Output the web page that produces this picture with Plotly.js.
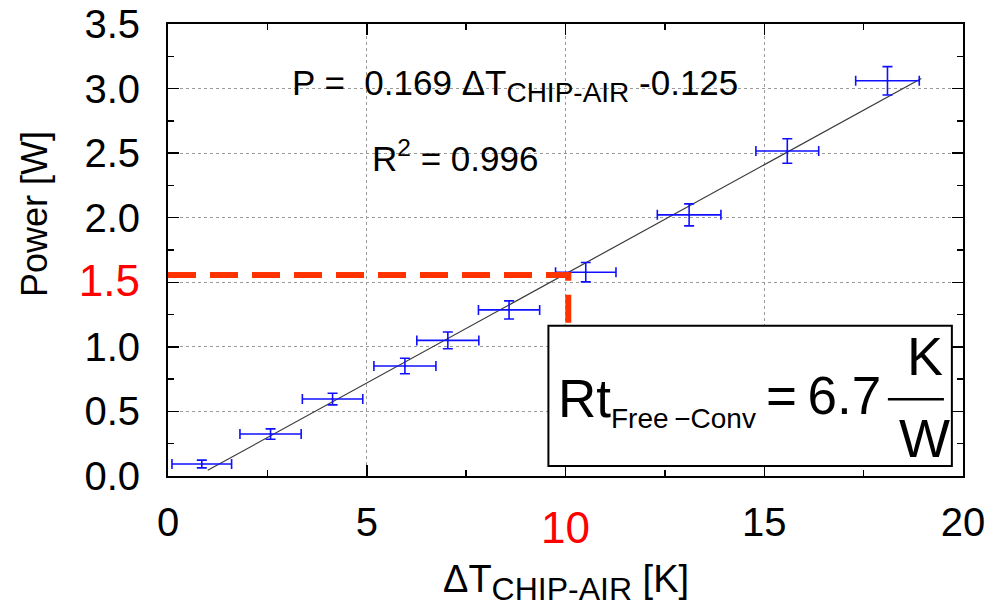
<!DOCTYPE html>
<html><head><meta charset="utf-8">
<script src="https://cdn.plot.ly/plotly-3.0.1.min.js"></script>
<style>html,body{margin:0;padding:0;background:#fff}#chart{width:996px;height:610px}</style>
</head><body><div id="chart"></div>
<script>
// ---- data ----
const deltaT    = [0.85, 2.58, 4.14, 5.96, 7.04, 8.58, 10.51, 13.11, 15.58, 18.10];
const power     = [0.093, 0.325, 0.596, 0.852, 1.050, 1.286, 1.578, 2.022, 2.517, 3.060];
const deltaTErr = [0.75, 0.77, 0.76, 0.78, 0.78, 0.77, 0.76, 0.80, 0.79, 0.80];
const powerErr  = [0.03, 0.04, 0.045, 0.06, 0.065, 0.07, 0.075, 0.085, 0.095, 0.11];
const fitSlope = 0.169;
const fitIntercept = -0.125;
const fitR2 = 0.996;
const fitXRange = [1.0, 18.95];
const xTickVals = [0, 5, 10, 15, 20];
const xTickText = ['0', '5', '10', '15', '20'];
const yTickVals = [0, 0.5, 1.0, 1.5, 2.0, 2.5, 3.0, 3.5];
const yTickText = ['0.0', '0.5', '1.0', '1.5', '2.0', '2.5', '3.0', '3.5'];
const highlightX = 10;
const highlightY = 1.5;
const readT = 10.07;
const readP = 1.557;
const rtValue = '6.7';

const FONT = 'Liberation Sans, Arial, sans-serif';
const fitY = fitXRange.map(x => fitSlope * x + fitIntercept);

const redX = (v, t) => v === highlightX ? '<span style="color:#ff0000;font-size:44px;baseline-shift:-7px">' + t + '</span>' : t;
const redY = (v, t) => v === highlightY ? '<span style="color:#ff0000;font-size:44px">' + t + '</span>' : t;

const box = {x0: 9.57, x1: 19.72, y0: 0.077, y1: 1.164};

const traces = [
  {
    x: fitXRange, y: fitY, mode: 'lines', type: 'scatter',
    line: {color: '#3a3a3a', width: 1.2}, hoverinfo: 'skip'
  },
  {
    x: deltaT, y: power, mode: 'markers', type: 'scatter',
    marker: {size: 2, color: '#1010ff'},
    error_x: {type: 'data', array: deltaTErr, visible: true, color: '#1010ff', thickness: 1.6, width: 5},
    error_y: {type: 'data', array: powerErr, visible: true, color: '#1010ff', thickness: 1.6, width: 5}
  }
];

const axisCommon = {
  showline: true, linecolor: '#000', linewidth: 2, mirror: 'ticks',
  ticks: 'inside', ticklen: 11, tickwidth: 1.5, tickcolor: '#000',
  showgrid: true, gridcolor: '#9a9a9a', griddash: 'dot', gridwidth: 1,
  zeroline: false, tickmode: 'array',
  tickfont: {family: FONT, size: 40, color: '#000'}
};

const layout = {
  width: 996, height: 610,
  margin: {l: 168, r: 33, t: 24, b: 134, pad: 0},
  paper_bgcolor: '#fff', plot_bgcolor: '#fff',
  showlegend: false,
  font: {family: FONT, color: '#000'},
  xaxis: Object.assign({}, axisCommon, {
    range: [0, 20], tickvals: xTickVals, ticktext: xTickText.map((t, i) => redX(xTickVals[i], t)),
    ticklabelstandoff: 10,
    minor: {dtick: 2.5, ticks: 'inside', ticklen: 6, tickwidth: 1.5, tickcolor: '#000', showgrid: false}
  }),
  yaxis: Object.assign({}, axisCommon, {
    range: [0, 3.5], tickvals: yTickVals, ticktext: yTickText.map((t, i) => redY(yTickVals[i], t)),
    ticklabelstandoff: 18,
    minor: {dtick: 0.25, ticks: 'inside', ticklen: 6, tickwidth: 1.5, tickcolor: '#000', showgrid: false}
  }),
  shapes: [
    {type: 'path', xref: 'x', yref: 'y', layer: 'above',
     path: `M 0,${readP} L ${readT},${readP} L ${readT},${box.y1}`,
     line: {color: '#ff3300', width: 6, dash: '28px,14px'}},
    {type: 'rect', xref: 'x', yref: 'y', layer: 'above',
     x0: box.x0, x1: box.x1, y0: box.y0, y1: box.y1,
     fillcolor: '#fff', line: {color: '#000', width: 2}},
    {type: 'line', xref: 'x', yref: 'y', layer: 'above',
     x0: 18.11, x1: 19.52, y0: 0.594, y1: 0.594,
     line: {color: '#000', width: 2.5}}
  ],
  annotations: [
    // axis titles
    {xref: 'paper', yref: 'paper', x: -0.167, y: 0.58, textangle: -90, showarrow: false,
     xanchor: 'center', yanchor: 'middle', text: 'Power [W]', font: {family: FONT, size: 36, color: '#000'}},
    {xref: 'paper', yref: 'paper', x: 0.5, y: -0.235, showarrow: false,
     xanchor: 'center', yanchor: 'middle',
     text: 'ΔT<sub><span style="font-size:32px">CHIP-AIR</span></sub> [K]',
     font: {family: FONT, size: 38, color: '#000'}},
    // fit equation
    {xref: 'x', yref: 'y', x: 3.07, y: 3.02, showarrow: false, xanchor: 'left', yanchor: 'middle',
     text: 'P =\u00a0\u00a0' + fitSlope.toFixed(3) + ' ΔT<sub><span style="font-size:28px">CHIP-AIR</span></sub> ' + fitIntercept.toFixed(3),
     font: {family: FONT, size: 35, color: '#000'}},
    {xref: 'x', yref: 'y', x: 5.08, y: 2.48, showarrow: false, xanchor: 'left', yanchor: 'middle',
     text: 'R<sup>2</sup> = ' + fitR2.toFixed(3),
     font: {family: FONT, size: 35, color: '#000'}},
    // thermal resistance box
    {xref: 'x', yref: 'y', x: 9.76, y: 0.58, showarrow: false, xanchor: 'left', yanchor: 'middle',
     text: 'Rt<sub><span style="font-size:28px">Free\u2009\u2212Conv</span></sub>',
     font: {family: FONT, size: 53, color: '#000'}},
    {xref: 'x', yref: 'y', x: 17.99, y: 0.62, showarrow: false, xanchor: 'right', yanchor: 'middle',
     text: '=\u2009' + rtValue,
     font: {family: FONT, size: 53, color: '#000'}},
    {xref: 'x', yref: 'y', x: 19.04, y: 0.93, showarrow: false, xanchor: 'center', yanchor: 'middle',
     text: 'K', font: {family: FONT, size: 54, color: '#000'}},
    {xref: 'x', yref: 'y', x: 19.04, y: 0.298, showarrow: false, xanchor: 'center', yanchor: 'middle',
     text: 'W', font: {family: FONT, size: 54, color: '#000'}}
  ]
};

Plotly.newPlot('chart', traces, layout, {staticPlot: true, displayModeBar: false});
</script>
</body></html>
